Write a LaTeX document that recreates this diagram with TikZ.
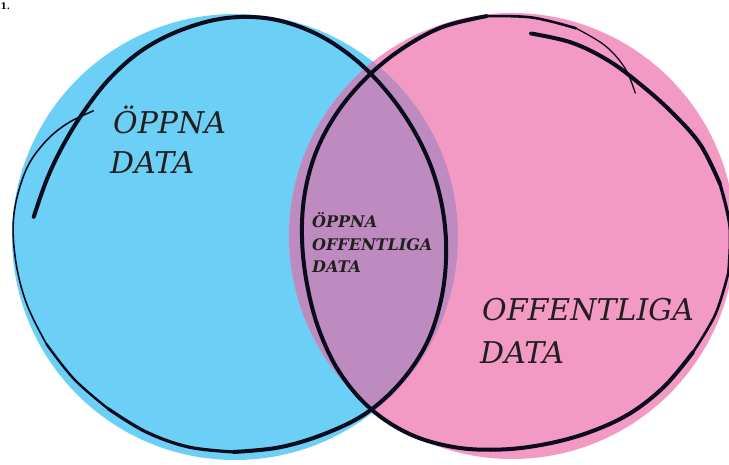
\documentclass[tikz,border=0pt]{standalone}
\usepackage{fontspec}
\setmainfont{DejaVu Serif}
\definecolor{openblue}{HTML}{6CCFF6}
\definecolor{publicpink}{HTML}{F39AC4}
\definecolor{lensviolet}{HTML}{BD8BC0}
\definecolor{inkline}{HTML}{0B0B1E}
\definecolor{labelgray}{HTML}{231F20}
\tikzset{
  ring/.style={draw=inkline,line cap=round,line join=round},
  biglabel/.style={anchor=base west,inner sep=0pt,text=labelgray,font=\fontsize{30}{30}\itshape},
  smalllabel/.style={anchor=base west,inner sep=0pt,text=labelgray,font=\fontsize{16}{16}\bfseries\itshape}
}

\begin{document}
\begin{tikzpicture}[x=1pt,y=-1pt]
    \useasboundingbox (0,0) rectangle (729,464);
    % the two sets and their overlap
    \fill[openblue] (235,237) circle (223pt);
    \fill[publicpink] (512,236) circle (223pt);
    \begin{scope}
        \clip (235,237) circle (223pt);
        \fill[lensviolet] (512,236) circle (223pt);
    \end{scope}

    % hand drawn outline, left set (polar, around its middle)
    \begin{scope}[shift={(230,234)}]
        \draw[ring,line width=4pt] plot[smooth,tension=0.6] coordinates {(185:197) (197:191) (209:189) (221:191) (233:197) (245:204) (257:210) (269:216) (281:219) (293:218) (305:215) (317:212) (329:211) (341:212) (353:214) (365:217) (377:221) (389:225) (401:226) (413:225) (425:221) (437:219) (449:218)};
        \draw[ring,line width=3.2pt] plot[smooth,tension=0.6] coordinates {(449:218) (461:217) (473:215) (485:213)};
        \draw[ring,line width=2.4pt] plot[smooth,tension=0.6] coordinates {(485:213) (497:213) (509:214)};
        \draw[ring,line width=1.6pt] plot[smooth,tension=0.6] coordinates {(509:214) (521:215) (533:216) (545:217) (557:214) (566:207) (574:197) (582:184)};
    \end{scope}

    % hand drawn outline, right set
    \begin{scope}[shift={(517,234)}]
        \draw[ring,line width=4pt] plot[smooth,tension=0.6] coordinates {(274:201) (286:199) (298:196) (310:194) (322:197) (334:204) (346:209)};
        \draw[ring,line width=3.2pt] plot[smooth,tension=0.6] coordinates {(346:209) (358:213) (370:215)};
        \draw[ring,line width=2.6pt] plot[smooth,tension=0.6] coordinates {(370:215) (382:214) (394:212)};
        \draw[ring,line width=4pt] plot[smooth,tension=0.6] coordinates {(394:212) (406:212) (418:212) (430:211) (442:212) (454:216) (466:222) (478:227) (490:228) (502:225) (514:220) (526:216) (538:215) (550:216) (562:217) (574:217) (586:217) (598:218) (610:220) (622:220)};
        \draw[ring,line width=2.6pt] plot[smooth,tension=0.6] coordinates {(622:220) (634:217) (646:214)};
        \draw[ring,line width=1.3pt] plot[smooth,tension=0.6] coordinates {(646:214) (655:208) (663:198) (670:184)};
    \end{scope}

    % labels
    \node at (113,133) [biglabel] (open1) {ÖPPNA};
    \node at (110,173) [biglabel] (open2) {DATA};
    \node at (482,320) [biglabel] (pub1) {OFFENTLIGA};
    \node at (480,363) [biglabel] (pub2) {DATA};
    \node at (312,227) [smalllabel] (both1) {ÖPPNA};
    \node at (312,250) [smalllabel] (both2) {OFFENTLIGA};
    \node at (312,272) [smalllabel] (both3) {DATA};
    \node at (0.5,9) [anchor=base west,inner sep=0pt,font=\fontsize{9}{9}\bfseries] (pagenum) {1.};
\end{tikzpicture}
\end{document}
